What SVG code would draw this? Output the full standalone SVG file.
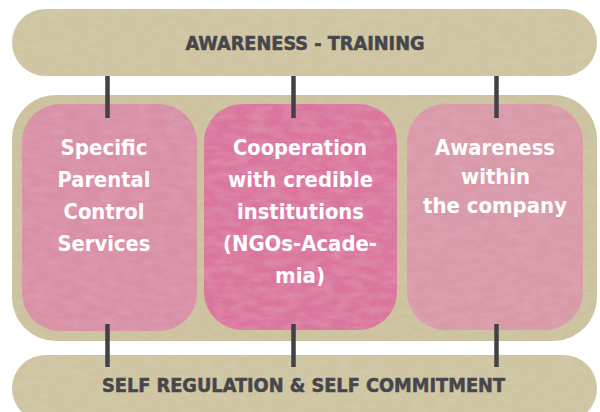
<svg xmlns="http://www.w3.org/2000/svg" width="600" height="412" viewBox="0 0 600 412">
  <defs>
    <filter id="tex" x="0" y="0" width="100%" height="100%">
      <feTurbulence type="fractalNoise" baseFrequency="0.08 0.2" numOctaves="3" seed="4" result="n"/>
      <feColorMatrix in="n" type="matrix" values="0 0 0 0 0.62  0 0 0 0 0.62  0 0 0 0 0.42  0 0 0 0.9 -0.3" result="c"/>
      <feComposite in="c" in2="SourceGraphic" operator="in" result="m"/>
      <feMerge><feMergeNode in="SourceGraphic"/><feMergeNode in="m"/></feMerge>
    </filter>
    <filter id="tex2" x="0" y="0" width="100%" height="100%">
      <feTurbulence type="fractalNoise" baseFrequency="0.06 0.15" numOctaves="3" seed="9" result="n"/>
      <feColorMatrix in="n" type="matrix" values="0 0 0 0 0.75  0 0 0 0 0.45  0 0 0 0 0.55  0 0 0 0.6 -0.2" result="c"/>
      <feComposite in="c" in2="SourceGraphic" operator="in" result="m"/>
      <feMerge><feMergeNode in="SourceGraphic"/><feMergeNode in="m"/></feMerge>
    </filter>
  </defs>
  <style>
    .bar { fill: #d0c5a3; filter: url(#tex); }
    .band { fill: #cdc19f; filter: url(#tex); }
    .title { font-family: "DejaVu Sans Condensed", "Liberation Sans Narrow", "Liberation Sans", sans-serif; font-weight: bold; font-size: 19.5px; fill: #46464b; stroke: #46464b; stroke-width: 0.5; text-anchor: middle; }
    .lbl { font-family: "DejaVu Sans Condensed", "Liberation Sans Narrow", "Liberation Sans", sans-serif; font-weight: bold; font-size: 22px; fill: #ffffff; text-anchor: middle; }
    .conn { stroke: #414146; stroke-width: 4.5; fill: none; }
    .p1 { fill: #d98fa5; filter: url(#tex2); }
    .p2 { fill: #db749e; filter: url(#tex2); }
    .p3 { fill: #d99aa8; filter: url(#tex2); }
  </style>

  <g id="top-bar">
    <rect class="bar" x="12" y="9" width="585" height="67" rx="33.5"/>
    <text class="title" x="305" y="50" textLength="239" lengthAdjust="spacingAndGlyphs">AWARENESS - TRAINING</text>
  </g>

  <g id="middle-band">
    <rect class="band" x="12" y="95" width="585" height="246" rx="44"/>
  </g>

  <g id="bottom-bar">
    <rect class="bar" x="12" y="355" width="585" height="67" rx="33.5"/>
    <text class="title" x="303.5" y="392" textLength="403" lengthAdjust="spacingAndGlyphs">SELF REGULATION &amp; SELF COMMITMENT</text>
  </g>

  <g id="box-parental">
    <rect class="p1" x="22" y="104" width="175" height="227" rx="38"/>
    <text class="lbl" x="104" y="155" textLength="87" lengthAdjust="spacingAndGlyphs">Specific</text>
    <text class="lbl" x="104" y="187" textLength="93" lengthAdjust="spacingAndGlyphs">Parental</text>
    <text class="lbl" x="104" y="219" textLength="81" lengthAdjust="spacingAndGlyphs">Control</text>
    <text class="lbl" x="104" y="251" textLength="93" lengthAdjust="spacingAndGlyphs">Services</text>
  </g>

  <g id="box-cooperation">
    <rect class="p2" x="204" y="104" width="193" height="226" rx="38"/>
    <text class="lbl" x="300" y="155" textLength="134" lengthAdjust="spacingAndGlyphs">Cooperation</text>
    <text class="lbl" x="300.5" y="187" textLength="145" lengthAdjust="spacingAndGlyphs">with credible</text>
    <text class="lbl" x="300.5" y="219" textLength="127" lengthAdjust="spacingAndGlyphs">institutions</text>
    <text class="lbl" x="300" y="251" textLength="154" lengthAdjust="spacingAndGlyphs">(NGOs-Acade-</text>
    <text class="lbl" x="300" y="283" textLength="50" lengthAdjust="spacingAndGlyphs">mia)</text>
  </g>

  <g id="box-awareness">
    <rect class="p3" x="407" y="104" width="176" height="226" rx="38"/>
    <text class="lbl" x="495" y="155" textLength="120" lengthAdjust="spacingAndGlyphs">Awareness</text>
    <text class="lbl" x="495.5" y="184" textLength="69" lengthAdjust="spacingAndGlyphs">within</text>
    <text class="lbl" x="495" y="213" textLength="144" lengthAdjust="spacingAndGlyphs">the company</text>
  </g>

  <g id="connectors">
    <line class="conn" x1="107.5" y1="76" x2="107.5" y2="118"/>
    <line class="conn" x1="293.5" y1="76" x2="293.5" y2="118"/>
    <line class="conn" x1="496.5" y1="76" x2="496.5" y2="118"/>
    <line class="conn" x1="107.5" y1="324" x2="107.5" y2="367"/>
    <line class="conn" x1="293.5" y1="324" x2="293.5" y2="367"/>
    <line class="conn" x1="496.5" y1="324" x2="496.5" y2="367"/>
  </g>
</svg>
